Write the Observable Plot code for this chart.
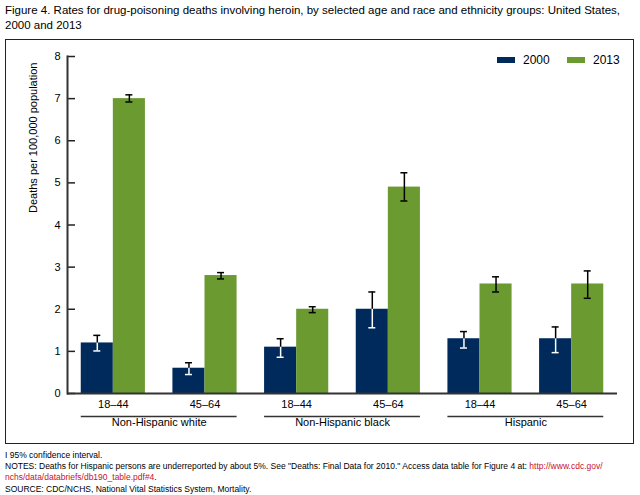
<!DOCTYPE html>
<html>
<head>
<meta charset="utf-8">
<script src="https://cdn.jsdelivr.net/npm/d3@7"></script>
<script src="https://cdn.jsdelivr.net/npm/@observablehq/plot@0.6"></script>
<style>
  body { margin: 0; background: #fff; font-family: "Liberation Sans", Arial, sans-serif; color: #000; }
  #wrap { position: relative; width: 640px; height: 495px; }
  #title { position: absolute; left: 5px; top: 3px; font-size: 11.5px; line-height: 15px; width: 634px; white-space: nowrap; }
  #box { position: absolute; left: 5px; top: 39px; width: 627px; height: 403px; border: 1px solid #222; }
  #chart { position: absolute; left: 0; top: 0; }
  .leg { position: absolute; font-size: 12px; line-height: 12px; }
  .sw { position: absolute; width: 18px; height: 6px; }
  #notes { position: absolute; left: 5px; top: 450px; font-size: 8.5px; line-height: 11.2px; width: 634px; white-space: nowrap; }
  #notes .lnk { color: #c8102e; }
</style>
</head>
<body>
<div id="wrap">
  <div id="title">Figure 4. Rates for drug-poisoning deaths involving heroin, by selected age and race and ethnicity groups: United States,<br>2000 and 2013</div>
  <div id="box">
    <div id="chart"></div>
  </div>
  <div id="legend"></div>
  <div id="notes">I 95% confidence interval.<br>NOTES: Deaths for Hispanic persons are underreported by about 5%. See "Deaths: Final Data for 2010." Access data table for Figure 4 at: <span class="lnk">http://www.cdc.gov/</span><br><span class="lnk">nchs/data/databriefs/db190_table.pdf#4</span>.<br>SOURCE: CDC/NCHS, National Vital Statistics System, Mortality.</div>
</div>
<script>
// ---- data ----
const races = ["Non-Hispanic white", "Non-Hispanic black", "Hispanic"];
const ages = ["18–44", "45–64"];
const years = ["2000", "2013"];
const rate2000 = [1.2, 0.6, 1.1, 2.0, 1.3, 1.3];
const rate2013 = [7.0, 2.8, 2.0, 4.9, 2.6, 2.6];
const lo2000 = [1.01, 0.45, 0.86, 1.56, 1.08, 0.97];
const hi2000 = [1.38, 0.73, 1.30, 2.41, 1.47, 1.58];
const lo2013 = [6.92, 2.72, 1.92, 4.57, 2.41, 2.26];
const hi2013 = [7.09, 2.87, 2.06, 5.24, 2.77, 2.91];
const yTicks = [0, 1, 2, 3, 4, 5, 6, 7, 8];
const colors = ["#002a5c", "#6b9a30"];

// ---- table ----
const rows = [];
races.forEach((r, i) => ages.forEach((a, j) => {
  const k = i * 2 + j;
  rows.push({key: r + " " + a, race: r, age: a,
    v00: rate2000[k], v13: rate2013[k],
    lo00: lo2000[k], hi00: hi2000[k], lo13: lo2013[k], hi13: hi2013[k]});
}));
const keys = rows.map(d => d.key);
const raceRows = races.map(r => ({race: r, first: r + " " + ages[0]}));

// ---- layout (styles) ----
const W = 627, H = 403, mL = 61, mR = 16, mT = 16, mB = 50;
const pIn = 0.3, pOut = 0.15;
const step = (W - mL - mR) / keys.length;
const bw = step * (1 - pIn);
const cap = 7;
const capInset = (bw - cap) / 2;

const chart = Plot.plot({
  width: W, height: H,
  marginLeft: mL, marginRight: mR, marginTop: mT, marginBottom: mB,
  style: {fontFamily: "Liberation Sans, Arial, sans-serif", fontSize: "11px", color: "#000", background: "transparent"},
  x: {type: "band", domain: keys, paddingInner: pIn, paddingOuter: pOut, round: false, axis: null},
  y: {domain: [0, 8], axis: null},
  marks: [
    Plot.barY(rows, {x: "key", y: "v00", fill: colors[0], insetRight: bw / 2}),
    Plot.barY(rows, {x: "key", y: "v13", fill: colors[1], insetLeft: bw / 2}),
    // 2000 error bars: white inside the bar, black above it
    Plot.ruleX(rows, {x: "key", y1: "lo00", y2: "v00", stroke: "white", strokeWidth: 1.5, dx: -bw / 4}),
    Plot.ruleX(rows, {x: "key", y1: "v00", y2: "hi00", stroke: "black", strokeWidth: 1.5, dx: -bw / 4}),
    Plot.tickY(rows, {x: "key", y: "lo00", stroke: "white", strokeWidth: 1.5, dx: -bw / 4, insetLeft: capInset, insetRight: capInset}),
    Plot.tickY(rows, {x: "key", y: "hi00", stroke: "black", strokeWidth: 1.5, dx: -bw / 4, insetLeft: capInset, insetRight: capInset}),
    // 2013 error bars
    Plot.ruleX(rows, {x: "key", y1: "lo13", y2: "hi13", stroke: "black", strokeWidth: 1.5, dx: bw / 4}),
    Plot.tickY(rows, {x: "key", y: "lo13", stroke: "black", strokeWidth: 1.5, dx: bw / 4, insetLeft: capInset, insetRight: capInset}),
    Plot.tickY(rows, {x: "key", y: "hi13", stroke: "black", strokeWidth: 1.5, dx: bw / 4, insetLeft: capInset, insetRight: capInset}),
    // axes
    Plot.axisY({ticks: yTicks, tickSize: 0, tickPadding: 7, label: null, fontSize: 11}),
    Plot.axisY({ticks: yTicks, tickSize: 8, dx: 8, tickFormat: () => "", label: null, stroke: "#222", strokeWidth: 1.5}),
    Plot.frame({anchor: "left", stroke: "#333", strokeWidth: 2}),
    Plot.ruleY([0], {stroke: "#333", strokeWidth: 2}),
    Plot.text(["Deaths per 100,000 population"], {frameAnchor: "left", rotate: -90, dx: -34, dy: -12, fontSize: 11}),
    // x labels
    Plot.text(rows, {x: "key", text: "age", frameAnchor: "bottom", dy: 14.5, fontSize: 11}),
    Plot.tickY(raceRows, {x: "first", y: () => 0, dy: 23, insetRight: -step, stroke: "#333", strokeWidth: 1.5}),
    Plot.text(raceRows, {x: "first", text: "race", frameAnchor: "bottom", dx: step / 2, dy: 32.5, fontSize: 11})
  ]
});
document.getElementById("chart").appendChild(chart);

// legend
const leg = document.getElementById("legend");
const legX = [497, 567];
years.forEach((yr, i) => {
  const sw = document.createElement("div");
  sw.className = "sw";
  sw.style.left = legX[i] + "px";
  sw.style.top = "57px";
  sw.style.background = colors[i];
  leg.appendChild(sw);
  const t = document.createElement("div");
  t.className = "leg";
  t.style.left = (legX[i] + 26) + "px";
  t.style.top = "54px";
  t.textContent = yr;
  leg.appendChild(t);
});
</script>
</body>
</html>
